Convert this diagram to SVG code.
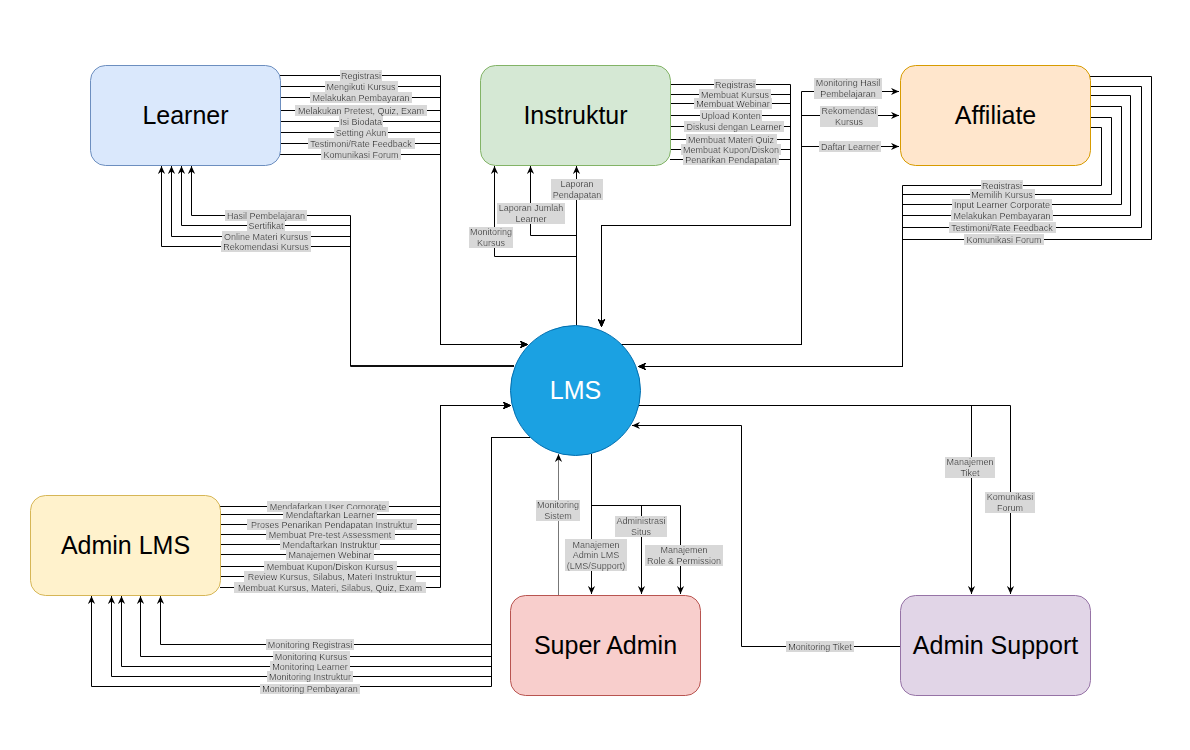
<svg xmlns="http://www.w3.org/2000/svg" width="1190" height="750" viewBox="0 0 1190 750">
<style>
.node{stroke-width:1}
.nt{font-family:"Liberation Sans",Arial,sans-serif;font-size:25px;text-anchor:middle}
.c{fill:none;stroke:#000;stroke-width:1;marker-end:url(#ar)}
.cn{fill:none;stroke:#000;stroke-width:1}
.lb{font-family:"Liberation Sans",Arial,sans-serif;font-size:9px;text-anchor:middle;fill:#000;filter:url(#bg)}
</style>
<defs>
<marker id="ar" viewBox="0 0 10 10" refX="10" refY="5" markerWidth="8" markerHeight="8" markerUnits="userSpaceOnUse" orient="auto">
<path d="M0,0.5 L10,5 L0,9.5 L3,5 z" fill="#000"/>
</marker>
<filter id="bg" x="-0.02" y="0" width="1.04" height="1">
<feFlood flood-color="#d8d8d8"/>
<feComposite in="SourceGraphic" operator="over"/>
</filter>
</defs>
<rect width="1190" height="750" fill="#fff"/>

<g id="connectors">
<!-- Learner -> LMS -->
<path class="c" d="M280,75.5 H440.5 V344.5 H528"/>
<path class="c" d="M280,86.5 H440.5 V344.5 H528"/>
<path class="c" d="M280,97.5 H440.5 V344.5 H528"/>
<path class="c" d="M280,110.5 H440.5 V344.5 H528"/>
<path class="c" d="M280,121.5 H440.5 V344.5 H528"/>
<path class="c" d="M280,132.5 H440.5 V344.5 H528"/>
<path class="c" d="M280,143.5 H440.5 V344.5 H528"/>
<path class="c" d="M280,154.5 H440.5 V344.5 H528"/>
<!-- LMS -> Learner -->
<path class="c" d="M514,366 H350.5 V215.5 H191.5 V166"/>
<path class="c" d="M514,366 H350.5 V225.5 H181.5 V166"/>
<path class="c" d="M514,366 H350.5 V236.5 H171.5 V166"/>
<path class="c" d="M514,366 H350.5 V246.5 H161.5 V166"/>
<!-- Instruktur -> LMS -->
<path class="c" d="M670,84.5 H790.5 V225.5 H601.5 V327"/>
<path class="c" d="M670,94.5 H790.5 V225.5 H601.5 V327"/>
<path class="c" d="M670,103.5 H790.5 V225.5 H601.5 V327"/>
<path class="c" d="M670,115.5 H790.5 V225.5 H601.5 V327"/>
<path class="c" d="M670,126.5 H790.5 V225.5 H601.5 V327"/>
<path class="c" d="M670,139.5 H790.5 V225.5 H601.5 V327"/>
<path class="c" d="M670,149.5 H790.5 V225.5 H601.5 V327"/>
<path class="c" d="M670,159.5 H790.5 V225.5 H601.5 V327"/>
<!-- LMS -> Instruktur -->
<path class="c" d="M576.5,325 V166"/>
<path class="c" d="M576.5,325 V235.5 H530.5 V166"/>
<path class="c" d="M576.5,325 V256.5 H494.5 V166"/>
<!-- LMS -> Affiliate -->
<path class="c" d="M620,344.5 H801.5 V91.5 H899"/>
<path class="c" d="M620,344.5 H801.5 V115.5 H899"/>
<path class="c" d="M620,344.5 H801.5 V146.5 H899"/>
<!-- Affiliate -> LMS -->
<path class="c" d="M1090,127.5 H1101.5 V185.5 H902.5 V366.5 H638"/>
<path class="c" d="M1090,117.5 H1111.5 V194.5 H902.5 V366.5 H638"/>
<path class="c" d="M1090,106.5 H1121.5 V204.5 H902.5 V366.5 H638"/>
<path class="c" d="M1090,95.5 H1130.5 V215.5 H902.5 V366.5 H638"/>
<path class="c" d="M1090,86.5 H1141.5 V227.5 H902.5 V366.5 H638"/>
<path class="c" d="M1090,76.5 H1151.5 V239.5 H902.5 V366.5 H638"/>
<!-- Admin LMS -> LMS -->
<path class="c" d="M220,506.5 H440.5 V405.5 H511"/>
<path class="c" d="M220,514.5 H440.5 V405.5 H511"/>
<path class="c" d="M220,524.5 H440.5 V405.5 H511"/>
<path class="c" d="M220,534.5 H440.5 V405.5 H511"/>
<path class="c" d="M220,544.5 H440.5 V405.5 H511"/>
<path class="c" d="M220,554.5 H440.5 V405.5 H511"/>
<path class="c" d="M220,566.5 H440.5 V405.5 H511"/>
<path class="c" d="M220,576.5 H440.5 V405.5 H511"/>
<path class="c" d="M220,587.5 H440.5 V405.5 H511"/>
<!-- LMS -> Admin LMS -->
<path class="c" d="M530,437.5 H491.5 V644.5 H160.5 V596"/>
<path class="c" d="M530,437.5 H491.5 V656.5 H140.5 V596"/>
<path class="c" d="M530,437.5 H491.5 V666.5 H121.5 V596"/>
<path class="c" d="M530,437.5 H491.5 V676.5 H111.5 V596"/>
<path class="c" d="M530,437.5 H491.5 V686.5 H91.5 V596"/>
<!-- Super Admin -> LMS -->
<path class="c" style="stroke:#777" d="M558.5,595 V454"/>
<!-- LMS -> Super Admin -->
<path class="c" d="M591.5,454 V594"/>
<path class="c" d="M591.5,454 V505.5 H641.5 V594"/>
<path class="c" d="M591.5,454 V505.5 H680.5 V594"/>
<!-- LMS -> Admin Support -->
<path class="c" d="M638,405.5 H971.5 V594"/>
<path class="c" d="M638,405.5 H1010.5 V594"/>
<!-- Admin Support -> LMS -->
<path class="c" d="M900,646.5 H741.5 V425.5 H632"/>
</g>

<g id="labels">
<text class="lb" x="361" y="78.5">Registrasi</text>
<text class="lb" x="361" y="89.5">Mengikuti Kursus</text>
<text class="lb" x="361" y="100.5">Melakukan Pembayaran</text>
<text class="lb" x="361" y="113.5">Melakukan Pretest, Quiz, Exam</text>
<text class="lb" x="361" y="124.5">Isi Biodata</text>
<text class="lb" x="361" y="135.5">Setting Akun</text>
<text class="lb" x="361" y="146.5">Testimoni/Rate Feedback</text>
<text class="lb" x="361" y="157.5">Komunikasi Forum</text>

<text class="lb" x="266" y="218.5">Hasil Pembelajaran</text>
<text class="lb" x="266" y="228.5">Sertifikat</text>
<text class="lb" x="266" y="239.5">Online Materi Kursus</text>
<text class="lb" x="266" y="249.5">Rekomendasi Kursus</text>

<text class="lb" x="735" y="87.5">Registrasi</text>
<text class="lb" x="735" y="97.5">Membuat Kursus</text>
<text class="lb" x="733" y="106.5">Membuat Webinar</text>
<text class="lb" x="731" y="118.5">Upload Konten</text>
<text class="lb" x="734" y="129.5">Diskusi dengan Learner</text>
<text class="lb" x="731" y="142.5">Membuat Materi Quiz</text>
<text class="lb" x="731" y="152.5">Membuat Kupon/Diskon</text>
<text class="lb" x="731" y="162.5">Penarikan Pendapatan</text>

<text class="lb" x="577" y="187"><tspan x="577">Laporan</tspan><tspan x="577" dy="10.5">Pendapatan</tspan></text>
<text class="lb" x="531" y="211"><tspan x="531">Laporan Jumlah</tspan><tspan x="531" dy="10.5">Learner</tspan></text>
<text class="lb" x="491" y="235"><tspan x="491">Monitoring</tspan><tspan x="491" dy="10.5">Kursus</tspan></text>

<text class="lb" x="848" y="86"><tspan x="848">Monitoring Hasil</tspan><tspan x="848" dy="10.5">Pembelajaran</tspan></text>
<text class="lb" x="849" y="114"><tspan x="849">Rekomendasi</tspan><tspan x="849" dy="10.5">Kursus</tspan></text>
<text class="lb" x="850" y="149.5">Daftar Learner</text>

<text class="lb" x="1002" y="188.5">Registrasi</text>
<text class="lb" x="1002" y="197.5">Memilih Kursus</text>
<text class="lb" x="1002" y="207.5">Input Learner Corporate</text>
<text class="lb" x="1002" y="218.5">Melakukan Pembayaran</text>
<text class="lb" x="1002" y="230.5">Testimoni/Rate Feedback</text>
<text class="lb" x="1004" y="242.5">Komunikasi Forum</text>

<text class="lb" x="328" y="509.5">Mendafarkan User Corporate</text>
<text class="lb" x="330" y="517.5">Mendaftarkan Learner</text>
<text class="lb" x="332" y="527.5">Proses Penarikan Pendapatan Instruktur</text>
<text class="lb" x="330" y="537.5">Membuat Pre-test Assessment</text>
<text class="lb" x="330" y="547.5">Mendaftarkan Instruktur</text>
<text class="lb" x="330" y="557.5">Manajemen Webinar</text>
<text class="lb" x="330" y="569.5">Membuat Kupon/Diskon Kursus</text>
<text class="lb" x="330" y="579.5">Review Kursus, Silabus, Materi Instruktur</text>
<text class="lb" x="330" y="590.5">Membuat Kursus, Materi, Silabus, Quiz, Exam</text>

<text class="lb" x="310" y="647.5">Monitoring Registrasi</text>
<text class="lb" x="311" y="659.5">Monitoring Kursus</text>
<text class="lb" x="310" y="669.5">Monitoring Learner</text>
<text class="lb" x="310" y="679.5">Monitoring Instruktur</text>
<text class="lb" x="310" y="692">Monitoring Pembayaran</text>

<text class="lb" x="558" y="508"><tspan x="558">Monitoring</tspan><tspan x="558" dy="10.5">Sistem</tspan></text>
<text class="lb" x="596" y="547.5"><tspan x="596">Manajemen</tspan><tspan x="596" dy="10.5">Admin LMS</tspan><tspan x="596" dy="10.5">(LMS/Support)</tspan></text>
<text class="lb" x="641" y="524"><tspan x="641">Administrasi</tspan><tspan x="641" dy="10.5">Situs</tspan></text>
<text class="lb" x="684" y="553"><tspan x="684">Manajemen</tspan><tspan x="684" dy="10.5">Role &amp; Permission</tspan></text>

<text class="lb" x="970" y="465"><tspan x="970">Manajemen</tspan><tspan x="970" dy="10.5">Tiket</tspan></text>
<text class="lb" x="1010" y="500"><tspan x="1010">Komunikasi</tspan><tspan x="1010" dy="10.5">Forum</tspan></text>
<text class="lb" x="820" y="649.5">Monitoring Tiket</text>
</g>

<g id="learner">
<rect x="90.5" y="65.5" width="190" height="100" rx="15" fill="#dae8fc" stroke="#6c8ebf"/>
<text class="nt" x="185.5" y="124">Learner</text>
</g>
<g id="instruktur">
<rect x="480.5" y="65.5" width="190" height="100" rx="15" fill="#d5e8d4" stroke="#82b366"/>
<text class="nt" x="575.5" y="124">Instruktur</text>
</g>
<g id="affiliate">
<rect x="900.5" y="65.5" width="190" height="100" rx="15" fill="#ffe6cc" stroke="#d79b00"/>
<text class="nt" x="995.5" y="124">Affiliate</text>
</g>
<g id="lms">
<circle cx="575.5" cy="390.5" r="65" fill="#1ba1e2" stroke="#006eaf"/>
<text class="nt" x="575.5" y="399" fill="#fff">LMS</text>
</g>
<g id="admin-lms">
<rect x="30.5" y="495.5" width="190" height="100" rx="15" fill="#fff2cc" stroke="#d6b656"/>
<text class="nt" x="125.5" y="554">Admin LMS</text>
</g>
<g id="super-admin">
<rect x="510.5" y="595.5" width="190" height="100" rx="15" fill="#f8cecc" stroke="#b85450"/>
<text class="nt" x="605.5" y="654">Super Admin</text>
</g>
<g id="admin-support">
<rect x="900.5" y="595.5" width="190" height="100" rx="15" fill="#e1d5e7" stroke="#9673a6"/>
<text class="nt" x="995.5" y="654">Admin Support</text>
</g>
</svg>
